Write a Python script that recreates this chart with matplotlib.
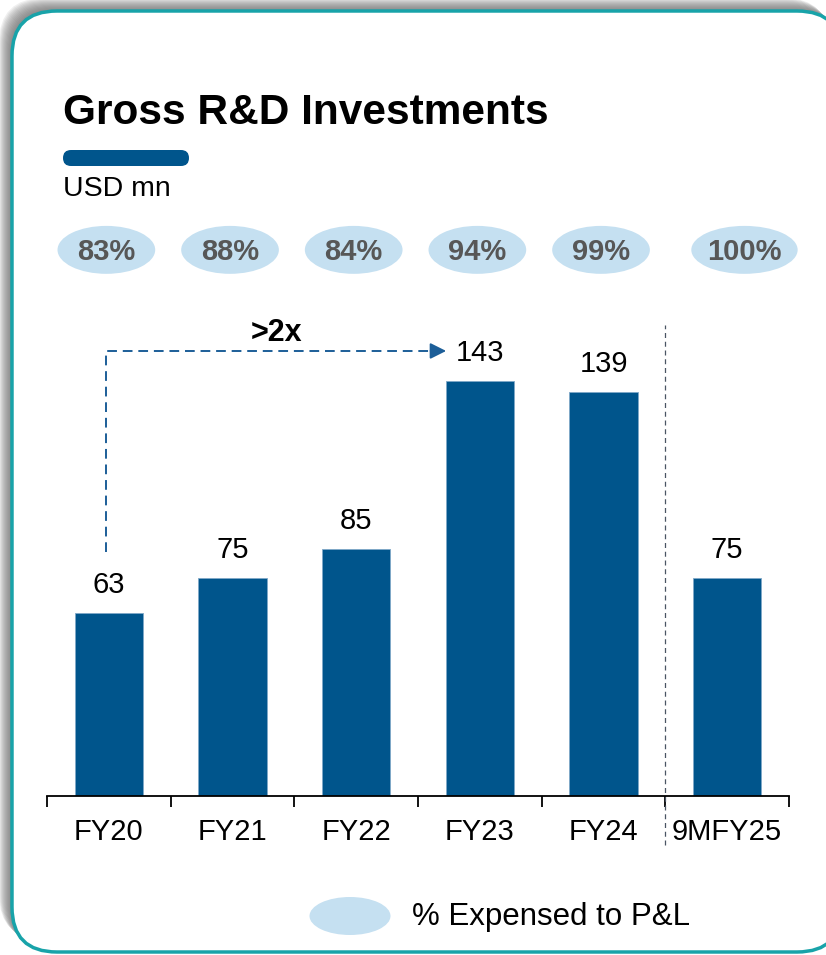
import matplotlib
matplotlib.use("Agg")
import matplotlib.pyplot as plt
from matplotlib.patches import FancyBboxPatch, Ellipse

plt.rcParams['font.family'] = ['Liberation Sans', 'DejaVu Sans']

# data
years = ['FY20', 'FY21', 'FY22', 'FY23', 'FY24', '9MFY25']
investment = [63, 75, 85, 143, 139, 75]
pct_expensed = ['83%', '88%', '84%', '94%', '99%', '100%']

BLUE = '#00558C'
PALE = '#C5E0F1'
TEAL = '#18A3A9'

W, H = 826, 955
fig = plt.figure(figsize=(W / 100, H / 100), dpi=100)

# background card in pixel coordinates
bg = fig.add_axes([0, 0, 1, 1])
bg.set_xlim(0, W)
bg.set_ylim(H, 0)
bg.axis('off')

# soft shadow to the top-left
for i in range(1, 14):
    sh = FancyBboxPatch((12 - i, 11 - i), 830, 941,
                        boxstyle="round,pad=0,rounding_size=45",
                        fc='#6a6a6a', ec='none', alpha=0.1)
    bg.add_patch(sh)
card = FancyBboxPatch((12, 11), 830, 941,
                      boxstyle="round,pad=0,rounding_size=45",
                      fc='white', ec=TEAL, lw=2.5)
bg.add_patch(card)

bg.text(63, 113, 'Gross R&D Investments', fontsize=30.5, fontweight='bold',
        va='center', ha='left')
bg.add_patch(FancyBboxPatch((63, 150), 126, 16,
                            boxstyle="round,pad=0,rounding_size=8",
                            fc=BLUE, ec='none'))
bg.text(63, 189, 'USD mn', fontsize=20.5, va='center', ha='left')

# legend
bg.add_patch(Ellipse((350, 916), 81, 38, fc=PALE, ec='none'))
bg.text(412, 917, '% Expensed to P&L', fontsize=22.5, va='center', ha='left')

# main chart
x0, base, top = 47, 796, 300
ax = fig.add_axes([x0 / W, (H - base) / H, 742 / W, (base - top) / H])
ymax = (base - top) / 2.905
ax.set_xlim(-0.5, len(years) - 0.5)
ax.set_ylim(0, ymax)

xs = list(range(len(years)))
bars = ax.bar(xs, investment, width=0.55, color=BLUE, edgecolor='#7fa8c8', lw=0.6)
for x, v in zip(xs, investment):
    ax.annotate(str(v), (x, v), xytext=(0, 20), textcoords='offset points',
                ha='center', va='center', fontsize=21)

# percent bubbles above the bars
for x, p in zip(xs, pct_expensed):
    cx = x - 0.02 if x < 5 else x + 0.14
    w = 0.79 if x < 5 else 0.86
    ax.add_patch(Ellipse((cx, 188.0), w, 16.5, fc=PALE, ec='none', clip_on=False))
    ax.text(cx, 187.2, p, ha='center', va='center', fontsize=21,
            fontweight='bold', color='#575757', clip_on=False)

# axis styling
for s in ['top', 'right', 'left']:
    ax.spines[s].set_visible(False)
ax.spines['bottom'].set_linewidth(1.3)
ax.set_yticks([])
ax.set_xticks(xs)
ax.set_xticklabels(years, fontsize=21)
ax.tick_params(axis='x', which='major', length=0, pad=16)
ax.set_xticks([i - 0.5 for i in range(len(years) + 1)], minor=True)
ax.tick_params(axis='x', which='minor', length=8, width=1.3, direction='out')

# divider before the partial year
ax.plot([4.5, 4.5], [-17, 162], ls=(0, (4, 3)), color='#4a5563', lw=0.9,
        clip_on=False)

# ">2x" growth arrow
ax.plot([-0.024, -0.024, 2.66], [84, 153.2, 153.2], ls=(0, (5, 3)),
        color='#1C5E98', lw=1.4, clip_on=False)
ax.annotate('', xy=(2.75, 153.2), xytext=(2.58, 153.2),
            arrowprops=dict(arrowstyle='-|>', color='#1C5E98', lw=1.4,
                            mutation_scale=24), annotation_clip=False)
ax.text(1.36, 159.5, '>2x', ha='center', va='center', fontsize=22,
        fontweight='bold', clip_on=False)

fig.savefig('out.png', dpi=100)
